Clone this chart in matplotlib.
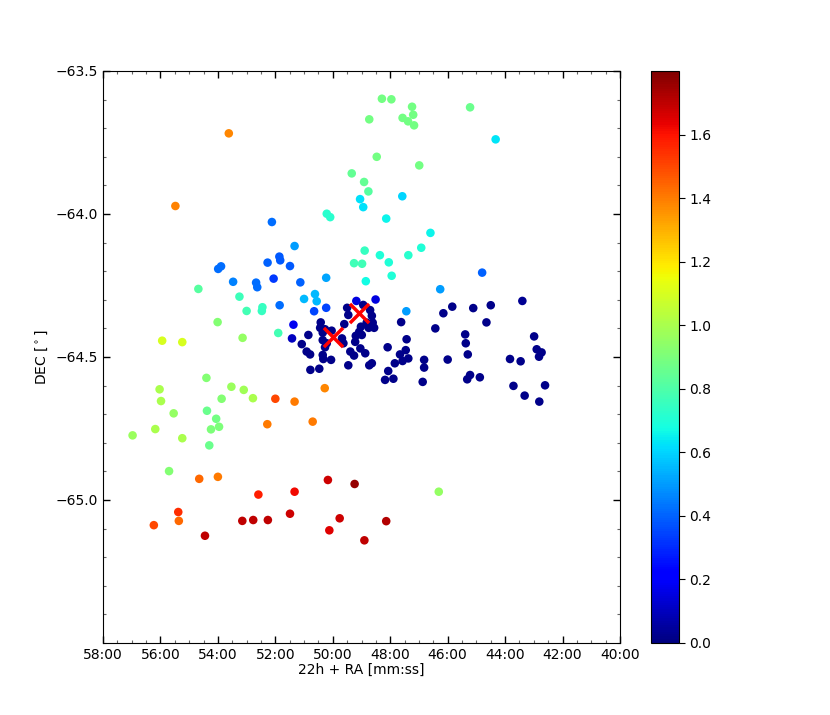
import numpy as np
import matplotlib.pyplot as plt
from matplotlib.ticker import FuncFormatter, MultipleLocator

# ==========================================
# DATA (RA in minutes after 22h, DEC in deg)
# ==========================================

ra_min = [
    53.62, 55.48, 52.12, 52.27, 51.86, 51.83, 51.49, 53.99, 53.89, 53.47,
    52.67, 52.63, 52.06, 54.68, 53.25,
    48.29, 47.96, 47.24, 47.20, 47.57, 47.38, 47.17, 48.73, 45.22, 48.47,
    46.99, 49.34, 48.91, 48.76, 49.05, 48.94, 47.58, 50.21, 50.09, 48.14,
    46.60, 46.92, 51.33, 51.13, 50.23, 50.62, 51.00, 50.56, 48.89, 49.26,
    48.98, 48.36, 48.05, 47.37, 47.95, 48.85, 46.26, 48.51, 49.18,
    44.33, 44.80, 43.40,
    53.00, 52.45, 52.47, 51.85, 51.90, 54.01, 53.14, 55.94, 55.24, 54.40,
    56.03, 55.98, 53.53, 53.10, 53.87, 52.78, 52.00, 55.54, 54.38, 54.06,
    53.96, 54.24, 56.18, 56.97, 55.24, 54.30, 55.70, 52.28, 54.65, 54.00,
    52.59, 51.49, 55.38, 55.36, 56.23, 54.45, 53.15, 52.77, 52.26,
    50.23, 50.65, 47.44, 51.37, 51.42,
    49.50, 49.46, 48.94, 48.70, 48.64, 48.82, 48.61, 48.56, 48.75, 49.02,
    49.08, 49.20, 48.99, 49.60, 50.42, 50.44, 50.27, 50.35, 50.04, 50.35,
    50.21, 50.27, 49.68, 49.63, 49.22, 50.85, 51.08, 50.91, 50.79, 50.35,
    50.33, 50.06, 49.39, 49.26, 49.04, 48.87, 49.46, 50.78, 50.47, 48.73,
    48.64, 47.62, 47.43, 48.09, 47.66, 47.46, 47.37, 47.57, 47.84, 48.07,
    48.18, 47.89, 46.82, 46.82, 46.87,
    50.28, 51.33,
    45.84, 46.15, 45.11, 44.50, 44.65, 46.43, 45.39, 45.37, 45.30, 46.00,
    45.22, 45.32, 44.88, 42.99, 42.90, 42.73, 42.82, 43.83, 43.46, 43.71,
    42.61, 43.32, 42.81,
    50.70, 50.17, 49.24, 51.33, 49.76, 50.12, 48.90, 48.14, 46.31,
]

dec_deg = [
    -63.718, -63.972, -64.028, -64.170, -64.149, -64.162, -64.182, -64.192, -64.183, -64.237,
    -64.240, -64.256, -64.226, -64.262, -64.289,
    -63.597, -63.599, -63.625, -63.653, -63.664, -63.676, -63.690, -63.669, -63.627, -63.800,
    -63.830, -63.858, -63.888, -63.921, -63.948, -63.976, -63.938, -63.999, -64.011, -64.016,
    -64.066, -64.118, -64.112, -64.239, -64.223, -64.280, -64.297, -64.305, -64.128, -64.172,
    -64.174, -64.144, -64.169, -64.144, -64.216, -64.235, -64.263, -64.299, -64.304,
    -63.739, -64.205, -64.304,
    -64.339, -64.326, -64.339, -64.319, -64.416, -64.378, -64.433, -64.443, -64.448, -64.573,
    -64.613, -64.654, -64.604, -64.615, -64.646, -64.644, -64.646, -64.697, -64.688, -64.716,
    -64.744, -64.753, -64.752, -64.774, -64.784, -64.809, -64.899, -64.735, -64.926, -64.919,
    -64.981, -65.048, -65.042, -65.073, -65.088, -65.125, -65.073, -65.070, -65.070,
    -64.328, -64.340, -64.340, -64.387, -64.435,
    -64.328, -64.353, -64.318, -64.336, -64.356, -64.380, -64.380, -64.398, -64.398, -64.394,
    -64.412, -64.426, -64.423, -64.385, -64.379, -64.398, -64.403, -64.415, -64.408, -64.441,
    -64.452, -64.466, -64.435, -64.452, -64.447, -64.423, -64.455, -64.481, -64.491, -64.493,
    -64.507, -64.510, -64.481, -64.495, -64.470, -64.487, -64.529, -64.545, -64.541, -64.529,
    -64.522, -64.378, -64.438, -64.466, -64.491, -64.476, -64.505, -64.514, -64.522, -64.549,
    -64.580, -64.576, -64.510, -64.537, -64.587,
    -64.609, -64.656,
    -64.324, -64.347, -64.329, -64.319, -64.379, -64.400, -64.421, -64.452, -64.491, -64.509,
    -64.563, -64.578, -64.571, -64.428, -64.473, -64.484, -64.499, -64.507, -64.515, -64.601,
    -64.599, -64.635, -64.656,
    -64.726, -64.930, -64.944, -64.971, -65.064, -65.106, -65.141, -65.074, -64.971,
]

zval = [
    1.38, 1.39, 0.42, 0.40, 0.38, 0.38, 0.38, 0.42, 0.42, 0.45,
    0.42, 0.42, 0.33, 0.82, 0.76,
    0.88, 0.88, 0.88, 0.88, 0.88, 0.88, 0.88, 0.88, 0.86, 0.88,
    0.88, 0.85, 0.85, 0.82, 0.62, 0.62, 0.60, 0.72, 0.72, 0.66,
    0.66, 0.70, 0.50, 0.40, 0.52, 0.55, 0.55, 0.55, 0.75, 0.77,
    0.77, 0.70, 0.70, 0.72, 0.70, 0.67, 0.50, 0.15, 0.15,
    0.63, 0.40, 0.03,
    0.78, 0.75, 0.75, 0.42, 0.78, 0.92, 0.95, 1.10, 1.10, 0.92,
    1.00, 1.00, 0.97, 0.98, 0.92, 1.00, 1.50, 0.95, 0.86, 0.88,
    0.90, 0.90, 1.00, 0.97, 1.00, 0.86, 0.92, 1.40, 1.44, 1.40,
    1.58, 1.68, 1.55, 1.44, 1.50, 1.70, 1.70, 1.70, 1.70,
    0.35, 0.35, 0.50, 0.18, 0.10,
    0.02, 0.02, 0.02, 0.02, 0.02, 0.02, 0.02, 0.02, 0.02, 0.02,
    0.02, 0.02, 0.02, 0.02, 0.02, 0.02, 0.02, 0.02, 0.02, 0.02,
    0.02, 0.02, 0.02, 0.02, 0.02, 0.02, 0.02, 0.02, 0.02, 0.02,
    0.02, 0.02, 0.02, 0.02, 0.02, 0.02, 0.02, 0.02, 0.02, 0.02,
    0.02, 0.02, 0.02, 0.02, 0.02, 0.02, 0.02, 0.02, 0.02, 0.02,
    0.02, 0.02, 0.02, 0.02, 0.02,
    1.38, 1.40,
    0.02, 0.02, 0.02, 0.02, 0.02, 0.02, 0.02, 0.02, 0.02, 0.02,
    0.02, 0.02, 0.02, 0.02, 0.02, 0.02, 0.02, 0.02, 0.02, 0.02,
    0.02, 0.02, 0.02,
    1.40, 1.68, 1.76, 1.62, 1.68, 1.65, 1.70, 1.72, 0.95,
]

# cluster centres (red crosses)
cross_ra = [49.10, 49.98]
cross_dec = [-64.345, -64.431]

x_ticks = [58, 56, 54, 52, 50, 48, 46, 44, 42, 40]
y_ticks = [-65.0, -64.5, -64.0, -63.5]
cbar_ticks = [0.0, 0.2, 0.4, 0.6, 0.8, 1.0, 1.2, 1.4, 1.6]

# ==========================================
# PLOT
# ==========================================

fig = plt.figure(figsize=(8.3, 7.15), dpi=100)
ax = fig.add_axes([0.1241, 0.1007, 0.6229, 0.8])
cax = fig.add_axes([0.7843, 0.1007, 0.0337, 0.8])

sc = ax.scatter(ra_min, dec_deg, c=zval, cmap="jet", vmin=0.0, vmax=1.8,
                s=38, linewidths=0, zorder=2)
ax.scatter(cross_ra, cross_dec, marker="x", color="red", s=190,
           linewidths=2.5, zorder=3)


def mmss(x, pos):
    m = int(np.floor(x + 1e-9))
    s = int(round((x - m) * 60))
    return "%02d:%02d" % (m, s)


ax.set_xlim(58, 40)
ax.set_ylim(-65.5, -63.5)
ax.set_xticks(x_ticks)
ax.set_yticks(y_ticks)
ax.xaxis.set_major_formatter(FuncFormatter(mmss))
ax.xaxis.set_minor_locator(MultipleLocator(0.5))
ax.yaxis.set_minor_locator(MultipleLocator(0.1))
ax.tick_params(which="both", direction="in", top=True, right=True,
               labelsize=10)
ax.tick_params(which="major", length=5, width=1)
ax.tick_params(which="minor", length=2.5, width=0.8, color="0.4")

ax.set_xlabel("22h + RA [mm:ss]", fontsize=10, labelpad=1)
ax.set_ylabel(r"DEC [$^\circ$]", fontsize=10)

cb = fig.colorbar(sc, cax=cax, ticks=cbar_ticks)
cb.ax.tick_params(labelsize=10, length=4)

fig.savefig("out.png", dpi=100)
